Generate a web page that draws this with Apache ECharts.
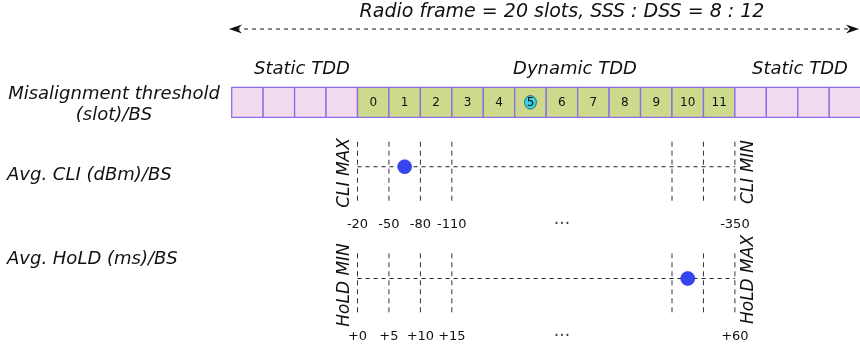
<!DOCTYPE html>
<html><head><meta charset="utf-8">
<script src="https://cdn.jsdelivr.net/npm/echarts@6/dist/echarts.min.js"></script>
<style>html,body{margin:0;padding:0;background:#fff}#c{width:860px;height:353px}</style>
</head><body><div id="c"></div>
<script>
// ---- data ----
const slotKinds = ['static','static','static','static',
  'dynamic','dynamic','dynamic','dynamic','dynamic','dynamic','dynamic','dynamic','dynamic','dynamic','dynamic','dynamic',
  'static','static','static','static'];
const slotLabels = ['','','','','0','1','2','3','4','5','6','7','8','9','10','11','','','',''];
const highlightedSlot = '5';
const thresholds = [0, 1, 2, 3, 10, 11, 12];          // misalignment threshold (slot)
const cliLabels  = ['-20','-50','-80','-110','','','-350'];
const holdLabels = ['+0','+5','+10','+15','','','+60'];
const cliValue  = 1.5;    // avg CLI position between -50 and -80
const holdValue = 10.5;   // avg HoLD position between +50 and +55
const rowNames = ['Misalignment threshold\n(slot)/BS', 'Avg. CLI (dBm)/BS', 'Avg. HoLD (ms)/BS'];
const titleText = 'Radio frame = 20 slots, SSS : DSS = 8 : 12';
const regionNames = ['Static TDD', 'Dynamic TDD', 'Static TDD'];
const cliEnds = ['CLI MAX', 'CLI MIN'];
const holdEnds = ['HoLD MIN', 'HoLD MAX'];

// ---- derived ----
const staticBefore = slotKinds.indexOf('dynamic');
const xMin = -staticBefore, xMax = slotKinds.length - staticBefore;
const gapMid = (thresholds[3] + thresholds[4]) / 2;
const FONT = '"DejaVu Sans", Verdana, sans-serif';
const Y_TOP = 1, Y_BOT = -1.45;

const chart = echarts.init(document.getElementById('c'), null, {renderer: 'canvas'});

const gridL = 231.7, gridW = 629;
const grids = [
  {left: gridL, width: gridW, top: 87.3, height: 30},
  {left: gridL, width: gridW, top: 141.7, height: 61.3},
  {left: gridL, width: gridW, top: 253.3, height: 61.7}
].map(g => Object.assign(g, {containLabel: false, outerBoundsMode: 'none'}));

function xAx(i, labels) {
  const ax = {gridIndex: i, type: 'value', min: xMin, max: xMax,
    axisLine: {show: false}, axisTick: {show: false}, splitLine: {show: false},
    axisLabel: {show: false}};
  if (labels) {
    ax.axisLabel = {show: true,
      customValues: thresholds.filter((t, k) => labels[k]),
      formatter: v => labels[thresholds.indexOf(v)],
      margin: 15, fontSize: 13, color: '#111', fontFamily: FONT};
  }
  return ax;
}
function yAx(i, mn, mx) { return {gridIndex: i, type: 'value', min: mn, max: mx, show: false}; }

function thresholdSeries(gi) {
  return {
    type: 'custom', xAxisIndex: gi, yAxisIndex: gi, silent: true,
    data: thresholds.map(t => [t]),
    renderItem: (params, api) => {
      const p1 = api.coord([api.value(0), Y_TOP]);
      const p2 = api.coord([api.value(0), Y_BOT]);
      return {type: 'line', shape: {x1: p1[0], y1: p1[1], x2: p2[0], y2: p2[1]},
        style: {stroke: '#333', lineWidth: 1, lineDash: [5, 4]}};
    }
  };
}
function rowLine(gi) {
  return {type: 'line', xAxisIndex: gi, yAxisIndex: gi, symbol: 'none', silent: true,
    data: [[thresholds[0], 0], [thresholds[thresholds.length - 1], 0]],
    lineStyle: {color: '#222', width: 1, type: [4, 4]}};
}
function dot(gi, v) {
  return {type: 'scatter', xAxisIndex: gi, yAxisIndex: gi, symbolSize: 14, z: 5,
    data: [[v, 0]], itemStyle: {color: '#3546f0', opacity: 1, borderColor: '#2433d8', borderWidth: 0.6}};
}
function dots(gi) {
  return {type: 'scatter', xAxisIndex: gi, yAxisIndex: gi, symbolSize: 0, clip: false, silent: true,
    data: [[gapMid, Y_BOT]],
    label: {show: true, position: 'inside', formatter: '...', offset: [0, 17],
      fontSize: 17, color: '#111', fontFamily: FONT}};
}

const slotSeries = {
  type: 'custom', xAxisIndex: 0, yAxisIndex: 0, silent: true,
  data: slotLabels.map((l, i) => [i - staticBefore]),
  renderItem: (params, api) => {
    const i = params.dataIndex;
    const x0 = api.value(0);
    const a = api.coord([x0, 1]), b = api.coord([x0 + 1, 0]);
    const dyn = slotKinds[i] === 'dynamic';
    const cx = (a[0] + b[0]) / 2, cy = (a[1] + b[1]) / 2;
    const children = [{type: 'rect', shape: {x: a[0], y: a[1], width: b[0] - a[0], height: b[1] - a[1]},
      style: {fill: dyn ? '#cdd98b' : '#f1d9ee', stroke: '#8c6de6', lineWidth: 1.3}}];
    if (slotLabels[i] === highlightedSlot) {
      children.push({type: 'circle', x: cx, y: cy, scaleX: 0.88, shape: {cx: 0, cy: 0, r: 6.8},
        style: {fill: '#37d3e0', stroke: '#1f4a55', lineWidth: 0.8}});
    }
    if (slotLabels[i]) {
      children.push({type: 'text', style: {text: slotLabels[i], x: cx, y: cy + 0.5, align: 'center',
        verticalAlign: 'middle', fontSize: 12, fontFamily: FONT, fill: '#111'}});
    }
    return {type: 'group', children};
  }
};

function txt(x, y, text, opt) {
  return Object.assign({type: 'text', x, y, silent: true,
    style: Object.assign({text, align: 'center', verticalAlign: 'middle', fontSize: 18,
      fontStyle: 'italic', fontFamily: FONT, fill: '#111'}, (opt && opt.style) || {})},
    opt && opt.el || {});
}

const graphic = [
  txt(562, 12.5, titleText, {style: {fontSize: 19}}),
  {type: 'line', silent: true, shape: {x1: 236, y1: 29, x2: 853, y2: 29},
    style: {stroke: '#111', lineWidth: 1, lineDash: [4, 4]}},
  {type: 'polygon', silent: true, shape: {points: [[229, 29], [242, 24.5], [238, 29], [242, 33.5]]},
    style: {fill: '#111'}},
  {type: 'polygon', silent: true, shape: {points: [[859, 29], [846, 24.5], [850, 29], [846, 33.5]]},
    style: {fill: '#111'}},
  txt(302, 69, regionNames[0]),
  txt(575, 69, regionNames[1]),
  txt(800, 69, regionNames[2]),
  txt(114, 104.5, rowNames[0], {style: {lineHeight: 21}}),
  txt(7, 175, rowNames[1], {style: {align: 'left'}}),
  txt(7, 259.5, rowNames[2], {style: {align: 'left'}}),
  txt(344.5, 173, cliEnds[0], {style: {fontSize: 17}, el: {rotation: Math.PI / 2}}),
  txt(748.5, 172, cliEnds[1], {style: {fontSize: 17}, el: {rotation: Math.PI / 2}}),
  txt(345, 285, holdEnds[0], {style: {fontSize: 17}, el: {rotation: Math.PI / 2}}),
  txt(749, 279.5, holdEnds[1], {style: {fontSize: 17}, el: {rotation: Math.PI / 2}})
];

chart.setOption({
  animation: false,
  backgroundColor: '#fff',
  grid: grids,
  xAxis: [xAx(0), xAx(1, cliLabels), xAx(2, holdLabels)],
  yAxis: [yAx(0, 0, 1), yAx(1, Y_BOT, Y_TOP), yAx(2, Y_BOT, Y_TOP)],
  series: [
    slotSeries,
    thresholdSeries(1), rowLine(1), dots(1), dot(1, cliValue),
    thresholdSeries(2), rowLine(2), dots(2), dot(2, holdValue)
  ],
  graphic
});
</script></body></html>
